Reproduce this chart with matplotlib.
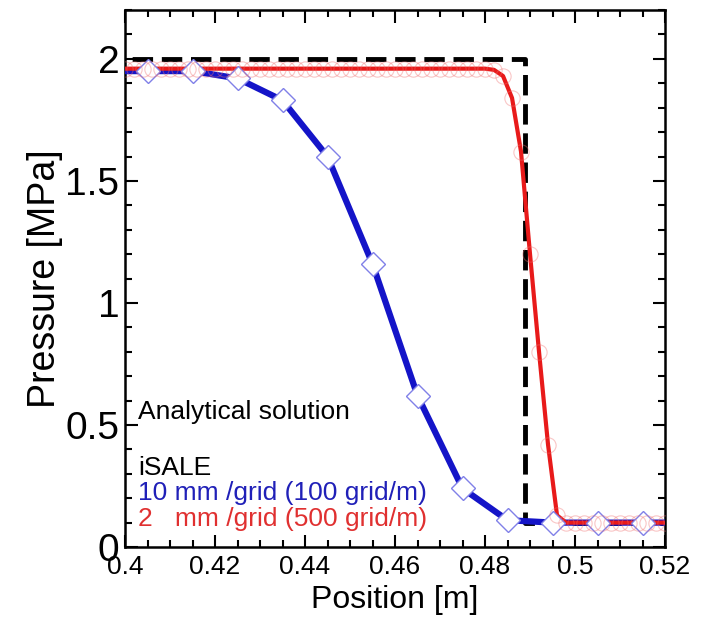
import matplotlib
matplotlib.use("Agg")
import matplotlib.pyplot as plt
from matplotlib.ticker import MultipleLocator

plt.rcParams['font.family'] = ['Liberation Sans', 'DejaVu Sans']

# analytical solution (step)
exact_x = [0.395, 0.4888, 0.4888, 0.525]
exact_p = [2.0, 2.0, 0.1, 0.1]

# iSALE, 10 mm / grid
coarse_x = [0.395, 0.405, 0.415, 0.425, 0.435, 0.445, 0.455, 0.465,
            0.475, 0.485, 0.495, 0.505, 0.515, 0.525]
coarse_p = [1.95, 1.95, 1.95, 1.92, 1.83, 1.60, 1.16, 0.62,
            0.24, 0.11, 0.10, 0.10, 0.10, 0.10]

# iSALE, 2 mm / grid
fine_x = [0.400, 0.402, 0.404, 0.406, 0.408, 0.410, 0.412, 0.414, 0.416, 0.418,
          0.420, 0.422, 0.424, 0.426, 0.428, 0.430, 0.432, 0.434, 0.436, 0.438,
          0.440, 0.442, 0.444, 0.446, 0.448, 0.450, 0.452, 0.454, 0.456, 0.458,
          0.460, 0.462, 0.464, 0.466, 0.468, 0.470, 0.472, 0.474, 0.476, 0.478,
          0.480, 0.482, 0.484, 0.486, 0.488, 0.490, 0.492, 0.494, 0.496, 0.498,
          0.500, 0.502, 0.504, 0.506, 0.508, 0.510, 0.512, 0.514, 0.516, 0.518,
          0.520]
fine_p = [1.96, 1.96, 1.96, 1.96, 1.96, 1.96, 1.96, 1.96, 1.96, 1.96,
          1.96, 1.96, 1.96, 1.96, 1.96, 1.96, 1.96, 1.96, 1.96, 1.96,
          1.96, 1.96, 1.96, 1.96, 1.96, 1.96, 1.96, 1.96, 1.96, 1.96,
          1.96, 1.96, 1.96, 1.96, 1.96, 1.96, 1.96, 1.96, 1.96, 1.96,
          1.96, 1.955, 1.93, 1.84, 1.62, 1.20, 0.80, 0.42, 0.13, 0.10,
          0.10, 0.10, 0.10, 0.10, 0.10, 0.10, 0.10, 0.10, 0.10, 0.10,
          0.10]

blue = '#1414c8'
red = '#e81a1a'

fig = plt.figure(figsize=(7.16, 6.3), dpi=100)
ax = fig.add_axes([0.1746, 0.1317, 0.7542, 0.8523])

ax.plot(exact_x, exact_p, color='black', lw=3.5, dashes=(4.2, 1.8), zorder=2)
ax.plot(coarse_x, coarse_p, color=blue, lw=4.5, zorder=3)
ax.plot(fine_x, fine_p, color=red, lw=3, zorder=4)
ax.plot(coarse_x, coarse_p, ls='none', marker='D', ms=12.5, mfc='white',
        mec='#8080e8', mew=1.0, zorder=5)
ax.plot(fine_x, fine_p, ls='none', marker='o', ms=11, mfc='none',
        mec='#f07070', mew=0.8, alpha=0.4, zorder=6)

ax.set_xlim(0.4, 0.52)
ax.set_ylim(0, 2.2)
ax.xaxis.set_minor_locator(MultipleLocator(0.005))
ax.yaxis.set_minor_locator(MultipleLocator(0.1))
ax.set_xticks([0.4, 0.42, 0.44, 0.46, 0.48, 0.5, 0.52])
ax.set_xticklabels(['0.4', '0.42', '0.44', '0.46', '0.48', '0.5', '0.52'])
ax.set_yticks([0, 0.5, 1, 1.5, 2])
ax.set_yticklabels(['0', '0.5', '1', '1.5', '2'])

ax.tick_params(which='both', direction='in', top=True, right=True, width=1.5)
ax.tick_params(which='major', length=9)
ax.tick_params(which='minor', length=5)
ax.tick_params(axis='x', labelsize=19, pad=6)
ax.tick_params(axis='y', labelsize=28, pad=4)
for s in ax.spines.values():
    s.set_linewidth(1.8)

ax.set_xlabel('Position [m]', fontsize=23, labelpad=4)
ax.set_ylabel('Pressure [MPa]', fontsize=27, labelpad=2)

ax.text(0.4029, 0.554, 'Analytical solution', fontsize=19, color='black', va='center')
ax.text(0.4029, 0.324, 'iSALE', fontsize=19, color='black', va='center')
ax.text(0.4029, 0.222, '10 mm /grid (100 grid/m)', fontsize=19, color='#2020b8', va='center')
ax.text(0.4029, 0.115, '2   mm /grid (500 grid/m)', fontsize=19, color='#e03030', va='center')

fig.savefig('out.png', dpi=100)
